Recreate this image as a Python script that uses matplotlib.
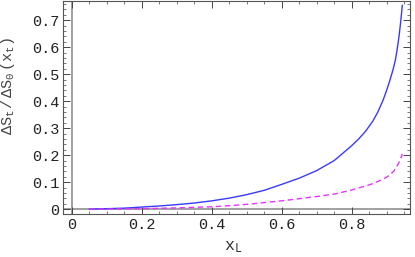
import matplotlib
matplotlib.use("Agg")
import matplotlib.pyplot as plt
from matplotlib.ticker import MultipleLocator, FixedFormatter, FixedLocator

plt.rcParams['font.family'] = ['Liberation Mono', 'DejaVu Sans']
plt.rcParams['mathtext.fontset'] = 'custom'
plt.rcParams['mathtext.rm'] = 'Liberation Mono'
plt.rcParams['mathtext.it'] = 'Liberation Mono'

# solid curve (blue)
x_solid = [0.05, 0.1, 0.15, 0.2, 0.25, 0.3, 0.35, 0.4, 0.45, 0.5, 0.55, 0.6,
           0.65, 0.7, 0.75, 0.8, 0.82, 0.84, 0.86, 0.875, 0.89, 0.9, 0.91, 0.918,
           0.925, 0.93, 0.935, 0.94, 0.945]
y_solid = [0.0, 0.002, 0.004, 0.008, 0.012, 0.017, 0.023, 0.031, 0.041, 0.054, 0.070, 0.092,
           0.115, 0.143, 0.180, 0.235, 0.260, 0.289, 0.325, 0.360, 0.404, 0.440, 0.480, 0.515,
           0.552, 0.590, 0.635, 0.690, 0.755]

# dashed curve (magenta)
x_dash = [0.05, 0.1, 0.2, 0.3, 0.4, 0.45, 0.5, 0.6, 0.7, 0.75, 0.8, 0.85,
          0.87, 0.89, 0.905, 0.92, 0.93, 0.938, 0.945]
y_dash = [0.0, 0.0005, 0.002, 0.005, 0.009, 0.013, 0.018, 0.031, 0.047, 0.056, 0.071, 0.090,
          0.100, 0.111, 0.123, 0.140, 0.160, 0.180, 0.205]

xticks = [0, 0.2, 0.4, 0.6, 0.8]
xtick_labels = ["0", "0.2", "0.4", "0.6", "0.8"]
yticks = [0, 0.1, 0.2, 0.3, 0.4, 0.5, 0.6, 0.7]
ytick_labels = ["0", "0.1", "0.2", "0.3", "0.4", "0.5", "0.6", "0.7"]

fig = plt.figure(figsize=(4.15, 2.57), dpi=100)
ax = fig.add_axes([0.153, 0.167, 0.835, 0.831])

ax.axhline(0, color="#999999", lw=1.3, zorder=1)
ax.axvline(0, color="#999999", lw=1.3, zorder=1)

ax.plot(x_solid, y_solid, color="#3a3aff", lw=1.0, zorder=3)
ax.plot(x_dash, y_dash, color="#e633ff", lw=1.0, dashes=(4, 2.5), zorder=3)

ax.set_xlim(-0.024, 0.967)
ax.set_ylim(-0.018, 0.773)

ax.xaxis.set_major_locator(FixedLocator(xticks))
ax.xaxis.set_major_formatter(FixedFormatter(xtick_labels))
ax.yaxis.set_major_locator(FixedLocator(yticks))
ax.yaxis.set_major_formatter(FixedFormatter(ytick_labels))
ax.xaxis.set_minor_locator(MultipleLocator(0.05))
ax.yaxis.set_minor_locator(MultipleLocator(0.02))

ax.tick_params(which="both", direction="in", top=True, right=True, colors="#444444",
               labelcolor="#222222", labelsize=11)
ax.tick_params(which="major", length=5, width=0.7, pad=3)
ax.tick_params(which="minor", length=2.5, width=0.5)
for s in ax.spines.values():
    s.set_color("#555555")
    s.set_linewidth(0.8)

ax.set_xlabel(r"$\mathrm{x}_\mathrm{L}$", fontsize=12, color="#333333")
ax.set_ylabel(r"$\Delta\mathrm{S}_\mathrm{t}\,/\,\Delta\mathrm{S}_0\,(\mathrm{x}_\mathrm{t})$",
              fontsize=11, color="#444444")
ax.xaxis.set_label_coords(0.49, -0.12)
ax.yaxis.set_label_coords(-0.135, 0.6)

fig.savefig("out.png", dpi=100)
